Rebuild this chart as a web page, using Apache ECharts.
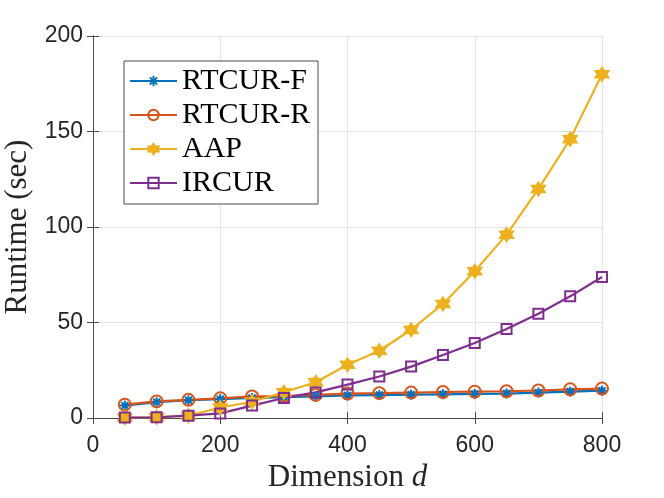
<!DOCTYPE html>
<html>
<head>
<meta charset="utf-8">
<script src="https://cdn.jsdelivr.net/npm/echarts@6/dist/echarts.min.js"></script>
<style>
    html, body { margin: 0; padding: 0; background: #fff; }
    #chart { width: 664px; height: 498px; }
</style>
</head>
<body>
<div id="chart"></div>
<script>
// dimension d on the x axis
const dims = [50, 100, 150, 200, 250, 300, 350, 400, 450, 500, 550, 600, 650, 700, 750, 800];
// runtimes in seconds
const rtcurF = [6.5, 8.3, 9.3, 9.9, 10.5, 10.9, 11.3, 11.8, 12.0, 12.2, 12.4, 12.6, 12.8, 13.3, 13.8, 14.3];
const rtcurR = [7.0, 8.7, 9.5, 10.3, 11.3, 11.5, 12.1, 12.8, 13.0, 13.3, 13.6, 13.8, 14.0, 14.4, 15.0, 15.4];
const aap = [0.2, 0.4, 1.2, 5.5, 8.5, 13.5, 18.7, 27.9, 35.2, 46.2, 59.7, 76.8, 96.0, 119.9, 146.0, 180.0];
const ircur = [0.2, 0.4, 1.2, 2.4, 6.5, 10.5, 13.4, 17.5, 21.7, 26.9, 33.0, 39.3, 46.6, 54.6, 63.7, 73.8];

const names = ["RTCUR-F", "RTCUR-R", "AAP", "IRCUR"];
const colors = ["#0072BD", "#D95319", "#EDB120", "#7E2F8E"];

const asterisk = "path://M0,-5L0,5M-5,0L5,0M-3.5,-3.5L3.5,3.5M-3.5,3.5L3.5,-3.5";
const hexagram =
    "path://M0,-10L2.89,-5L8.66,-5L5.77,0L8.66,5L2.89,5L0,10L-2.89,5L-8.66,5L-5.77,0L-8.66,-5L-2.89,-5Z";

const axisColor = "#4a4a4a";
const serif = "Liberation Serif";
const sans = "Liberation Sans";

const pairs = (ys) => dims.map((x, i) => [x, ys[i]]);

const seriesFn = (name, ys, color, symbol, size, fill) => ({
    name: name,
    type: "line",
    data: pairs(ys),
    symbol: symbol,
    symbolSize: size,
    showSymbol: true,
    lineStyle: { color: color, width: 2.2 },
    itemStyle: {
        color: fill,
        borderColor: color,
        borderWidth: 2,
    },
    emphasis: { disabled: true },
    animation: false,
});

const hiddenAxis = (position) => ({
    type: "value",
    position: position,
    min: 0,
    max: position === "top" ? 800 : 200,
    interval: position === "top" ? 200 : 50,
    axisLine: { show: true, lineStyle: { color: axisColor, width: 1 } },
    axisTick: { show: true, inside: true, length: 6, lineStyle: { color: axisColor } },
    axisLabel: { show: false },
    splitLine: { show: false },
});

let option = {
    backgroundColor: "#fff",
    grid: { left: 93, right: 62, top: 36, bottom: 80, outerBoundsMode: "none" },
    legend: {
        orient: "vertical",
        left: 124,
        top: 61,
        padding: [5, 6, 6, 5],
        itemGap: 4,
        itemWidth: 47,
        itemHeight: 13,
        backgroundColor: "#fff",
        borderColor: axisColor,
        borderWidth: 1,
        textStyle: {
            fontFamily: serif,
            fontSize: 30,
            lineHeight: 30,
            color: "#000",
            width: 130,
        },
        data: names,
    },
    xAxis: [
        {
            type: "value",
            min: 0,
            max: 800,
            interval: 200,
            name: "Dimension {i|d}",
            nameLocation: "middle",
            nameGap: 44,
            nameTextStyle: {
                fontFamily: serif,
                fontSize: 31,
                color: "#262626",
                rich: { i: { fontFamily: serif, fontSize: 31, fontStyle: "italic", color: "#262626" } },
            },
            axisLine: { show: true, lineStyle: { color: axisColor, width: 1 } },
            axisTick: { show: true, inside: true, length: 6, lineStyle: { color: axisColor } },
            axisLabel: { fontFamily: sans, fontSize: 23, color: "#262626", margin: 16 },
            splitLine: { show: true, lineStyle: { color: "#e3e3e3", width: 1 } },
        },
        hiddenAxis("top"),
    ],
    yAxis: [
        {
            type: "value",
            min: 0,
            max: 200,
            interval: 50,
            name: "Runtime (sec)",
            nameLocation: "middle",
            nameGap: 55,
            nameTextStyle: { fontFamily: serif, fontSize: 31, color: "#262626" },
            axisLine: { show: true, lineStyle: { color: axisColor, width: 1 } },
            axisTick: { show: true, inside: true, length: 6, lineStyle: { color: axisColor } },
            axisLabel: { fontFamily: sans, fontSize: 23, color: "#262626", margin: 10 },
            splitLine: { show: true, lineStyle: { color: "#e3e3e3", width: 1 } },
        },
        hiddenAxis("right"),
    ],
    series: [
        seriesFn(names[0], rtcurF, colors[0], asterisk, 10, "rgba(0,0,0,0)"),
        seriesFn(names[1], rtcurR, colors[1], "circle", 12, "rgba(0,0,0,0)"),
        seriesFn(names[2], aap, colors[2], hexagram, 13, colors[2]),
        seriesFn(names[3], ircur, colors[3], "rect", 10, "rgba(0,0,0,0)"),
    ],
};

let myChart = echarts.init(document.getElementById("chart"));
myChart.setOption(option);
</script>
</body>
</html>
